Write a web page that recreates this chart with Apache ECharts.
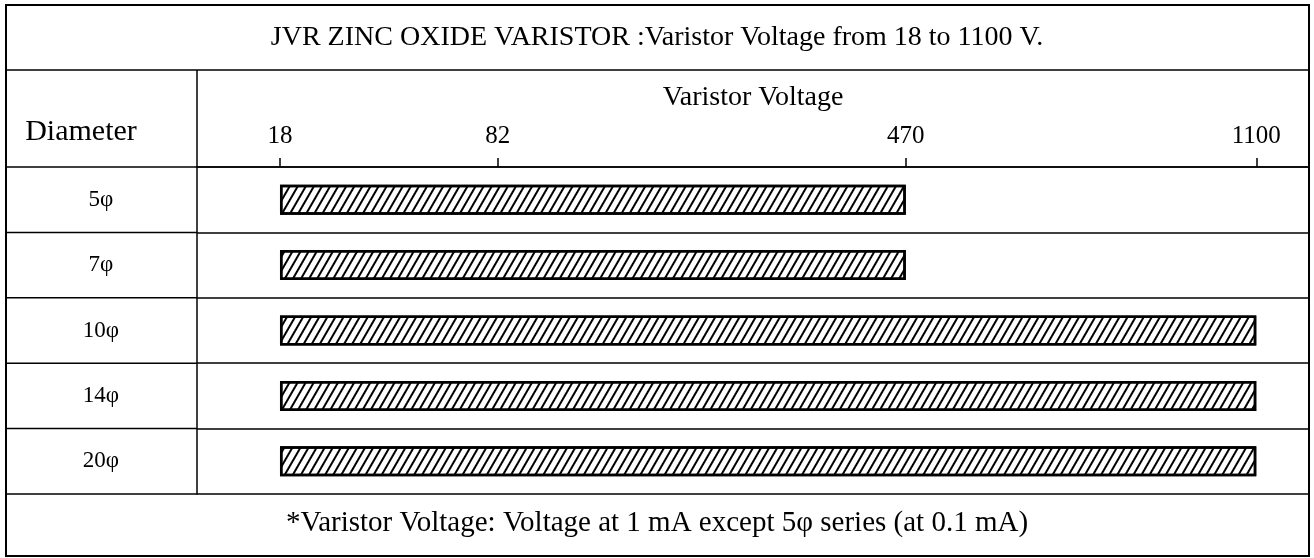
<!DOCTYPE html>
<html>
<head>
<meta charset="utf-8">
<title>JVR Zinc Oxide Varistor</title>
<script src="https://cdn.jsdelivr.net/npm/echarts@6/dist/echarts.min.js"></script>
<style>
  html, body { margin: 0; padding: 0; background: #fff; }
  #chart { width: 1314px; height: 558px; }
</style>
</head>
<body>
<div id="chart"></div>
<script>
var diameters = ['5φ', '7φ', '10φ', '14φ', '20φ'];
var voltLow = [18, 18, 18, 18, 18];
var voltHigh = [470, 470, 1100, 1100, 1100];
var voltTicks = [18, 82, 470, 1100];
// the printed axis is not to scale: where each tick sits, 18 -> 0, 1100 -> 1
var tickPlace = [0, 0.223, 0.641, 1];

var FONT = '"Liberation Serif", "DejaVu Serif", serif';

function place(v) {
  for (var i = 0; i < voltTicks.length - 1; i++) {
    if (v <= voltTicks[i + 1]) {
      var t = (v - voltTicks[i]) / (voltTicks[i + 1] - voltTicks[i]);
      return tickPlace[i] + t * (tickPlace[i + 1] - tickPlace[i]);
    }
  }
  return tickPlace[tickPlace.length - 1];
}

function tickLabel(u) {
  for (var i = 0; i < tickPlace.length; i++) {
    if (Math.abs(tickPlace[i] - u) < 1e-6) return String(voltTicks[i]);
  }
  return '';
}

var gridTop = 167, gridBottom = 494, gridLeft = 197, frameL = 6, frameR = 1309;
var rowH = (gridBottom - gridTop) / diameters.length;

// table frame
var frame = [
  { type: 'rect', shape: { x: frameL, y: 5, width: frameR - frameL, height: 551 },
    style: { fill: 'none', stroke: '#000', lineWidth: 2 } },
  { type: 'line', shape: { x1: frameL, y1: 70, x2: frameR, y2: 70 },
    style: { stroke: '#000', lineWidth: 1.5 } },
  { type: 'line', shape: { x1: gridLeft, y1: 70, x2: gridLeft, y2: gridTop },
    style: { stroke: '#000', lineWidth: 1.5 } },
  { type: 'text', x: 81, y: 132,
    style: { text: 'Diameter', font: '30px ' + FONT, fill: '#000',
             textAlign: 'center', textVerticalAlign: 'middle' } }
];
for (var k = 0; k <= diameters.length; k++) {
  frame.push({ type: 'line',
    shape: { x1: frameL, y1: gridTop + k * rowH, x2: gridLeft, y2: gridTop + k * rowH },
    style: { stroke: '#000', lineWidth: 1.5 } });
}

var chart = echarts.init(document.getElementById('chart'));

var option = {
  backgroundColor: '#fff',
  animation: false,
  title: [
    {
      text: 'JVR ZINC OXIDE VARISTOR :Varistor Voltage from 18 to 1100 V.',
      left: 'center', top: 24, padding: 0,
      textStyle: { fontFamily: FONT, fontSize: 28, fontWeight: 'normal', color: '#000' }
    },
    {
      text: '*Varistor Voltage: Voltage at 1 mA except 5φ series (at 0.1 mA)',
      left: 'center', top: 509, padding: 0,
      textStyle: { fontFamily: FONT, fontSize: 29, fontWeight: 'normal', color: '#000' }
    }
  ],
  grid: { left: gridLeft, right: 1314 - frameR, top: gridTop, bottom: 558 - gridBottom },
  xAxis: {
    type: 'value',
    position: 'top',
    min: -0.085,
    max: 1.054,
    name: 'Varistor Voltage',
    nameLocation: 'middle',
    nameGap: 55,
    nameTextStyle: { fontFamily: FONT, fontSize: 28, color: '#000' },
    axisLine: { show: true, lineStyle: { color: '#000', width: 1.5 } },
    axisTick: { show: true, customValues: tickPlace, length: 9,
                lineStyle: { color: '#000', width: 1.5 } },
    axisLabel: { customValues: tickPlace, formatter: tickLabel, margin: 18,
                 fontFamily: FONT, fontSize: 25, color: '#000' },
    splitLine: { show: false }
  },
  yAxis: {
    type: 'category',
    inverse: true,
    data: diameters,
    axisLine: { show: true, onZero: false, lineStyle: { color: '#000', width: 1.5 } },
    axisTick: { show: false },
    axisLabel: { margin: 96, align: 'center', fontFamily: FONT, fontSize: 23, color: '#000' },
    splitLine: { show: true, interval: 0, lineStyle: { color: '#000', width: 1.5 } }
  },
  graphic: frame,
  series: [
    {
      type: 'bar',
      stack: 'range',
      silent: true,
      barWidth: 30,
      itemStyle: { color: 'transparent' },
      data: voltLow.map(place)
    },
    {
      type: 'bar',
      stack: 'range',
      barWidth: 30,
      itemStyle: {
        color: '#fff',
        borderColor: '#000',
        borderWidth: 2.5,
        decal: {
          symbol: 'rect',
          color: '#000',
          dashArrayX: [1, 0],
          dashArrayY: [2, 5],
          rotation: -Math.PI / 3
        }
      },
      data: voltHigh.map(function (v, i) { return place(v) - place(voltLow[i]); })
    }
  ]
};

chart.setOption(option);
</script>
</body>
</html>
